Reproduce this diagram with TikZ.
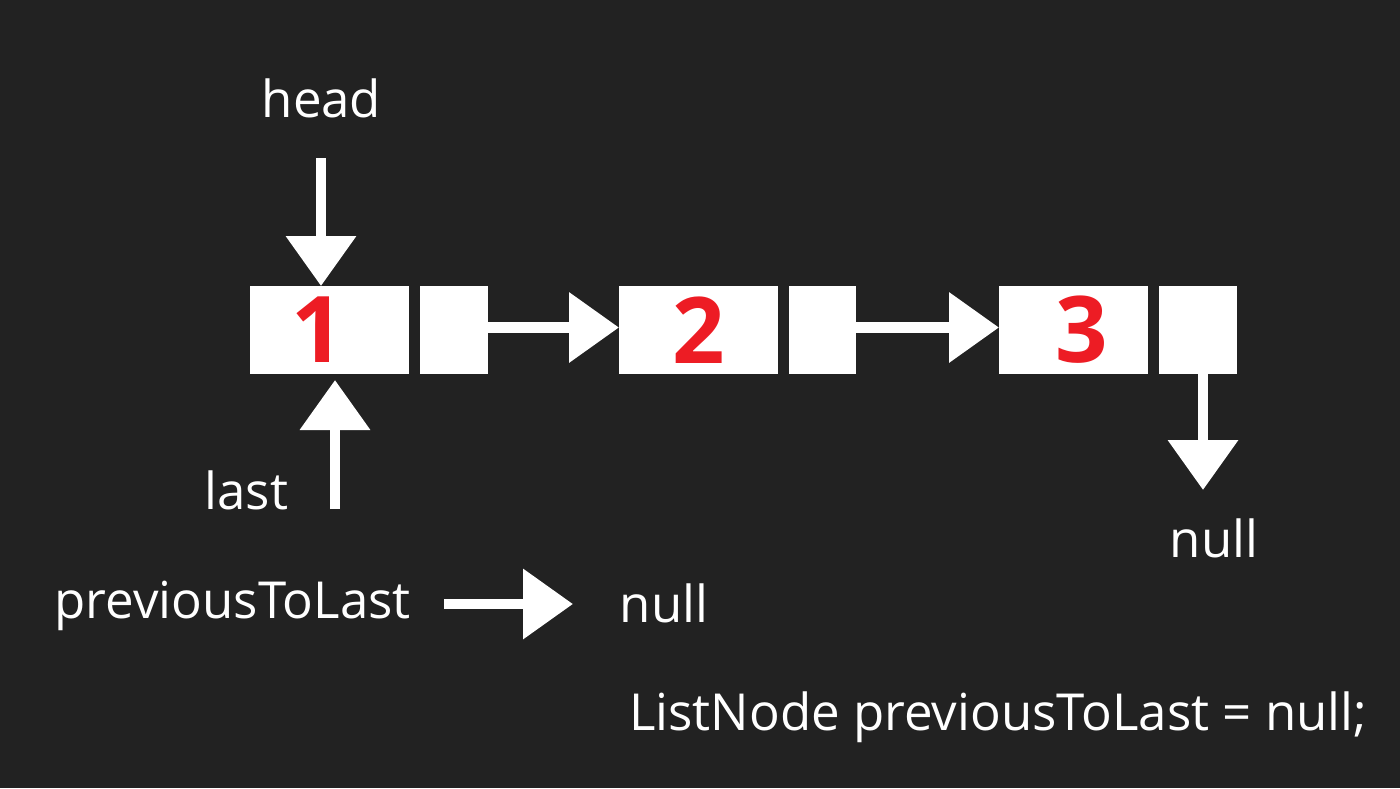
\documentclass[tikz,border=0pt]{standalone}
\usepackage{fontspec}
\setmainfont{Open Sans}
\usetikzlibrary{arrows.meta}
\definecolor{bg}{HTML}{222222}
\definecolor{numred}{HTML}{ED1C24}
\begin{document}
\begin{tikzpicture}[x=1pt,y=-1pt,
  cell/.style={fill=white,draw=none,inner sep=0pt,outer sep=0pt,minimum height=88pt},
  num/.style={text=numred,inner sep=0pt,font=\fontsize{92}{92}\selectfont\bfseries},
  lbl/.style={text=white,inner sep=0pt,anchor=base west,font=\fontsize{51}{60}\selectfont},
  ptr/.style={draw=white,line width=10.5pt,-{Triangle[width=68pt,length=50pt]}}]
\fill[bg] (0,0) rectangle (1400,788);
\useasboundingbox (0,0) rectangle (1400,788);
% list cells
\node[cell,minimum width=159pt] (b1) at (329.5,330) {};
\node[cell,minimum width=68pt]  (p1) at (454,330) {};
\node[cell,minimum width=159pt] (b2) at (698.5,330) {};
\node[cell,minimum width=67pt]  (p2) at (822.5,330) {};
\node[cell,minimum width=149pt] (b3) at (1073.5,330) {};
\node[cell,minimum width=78pt]  (p3) at (1198,330) {};
\node[num] (n1) at (318,330) {1};
\node[num] (n2) at (699,330) {2};
\node[num] (n3) at (1082,330) {3};
% labels
\node[lbl] (head) at (261.5,117) {head};
\node[lbl] (last) at (204.5,509) {last};
\node[lbl] (null3) at (1169.5,557) {null};
\node[lbl] (ptl) at (54.5,618) {previousToLast};
\node[lbl] (null1) at (619.5,622) {null};
\node[lbl] (decl) at (629,730) {ListNode previousToLast = null;};
% connectors
\draw[ptr] ([yshift=2.5pt]p1.east) -- ([yshift=2.5pt]b2.west);
\draw[ptr] ([yshift=2.5pt]p2.east) -- ([yshift=2.5pt]b3.west);
\coordinate (ht) at (321,158);
\draw[ptr] (ht) -- (ht |- b1.north);
\coordinate (lt) at (335,509);
\draw[ptr,shorten >=6pt] (lt) -- (lt |- b1.south);
\coordinate (nt) at (1203,490);
\draw[ptr] (nt |- p3.south) -- (nt);
\coordinate (pa) at (444,604);
\coordinate (pb) at (573,604);
\draw[ptr] (pa) -- (pb);
\end{tikzpicture}
\end{document}
